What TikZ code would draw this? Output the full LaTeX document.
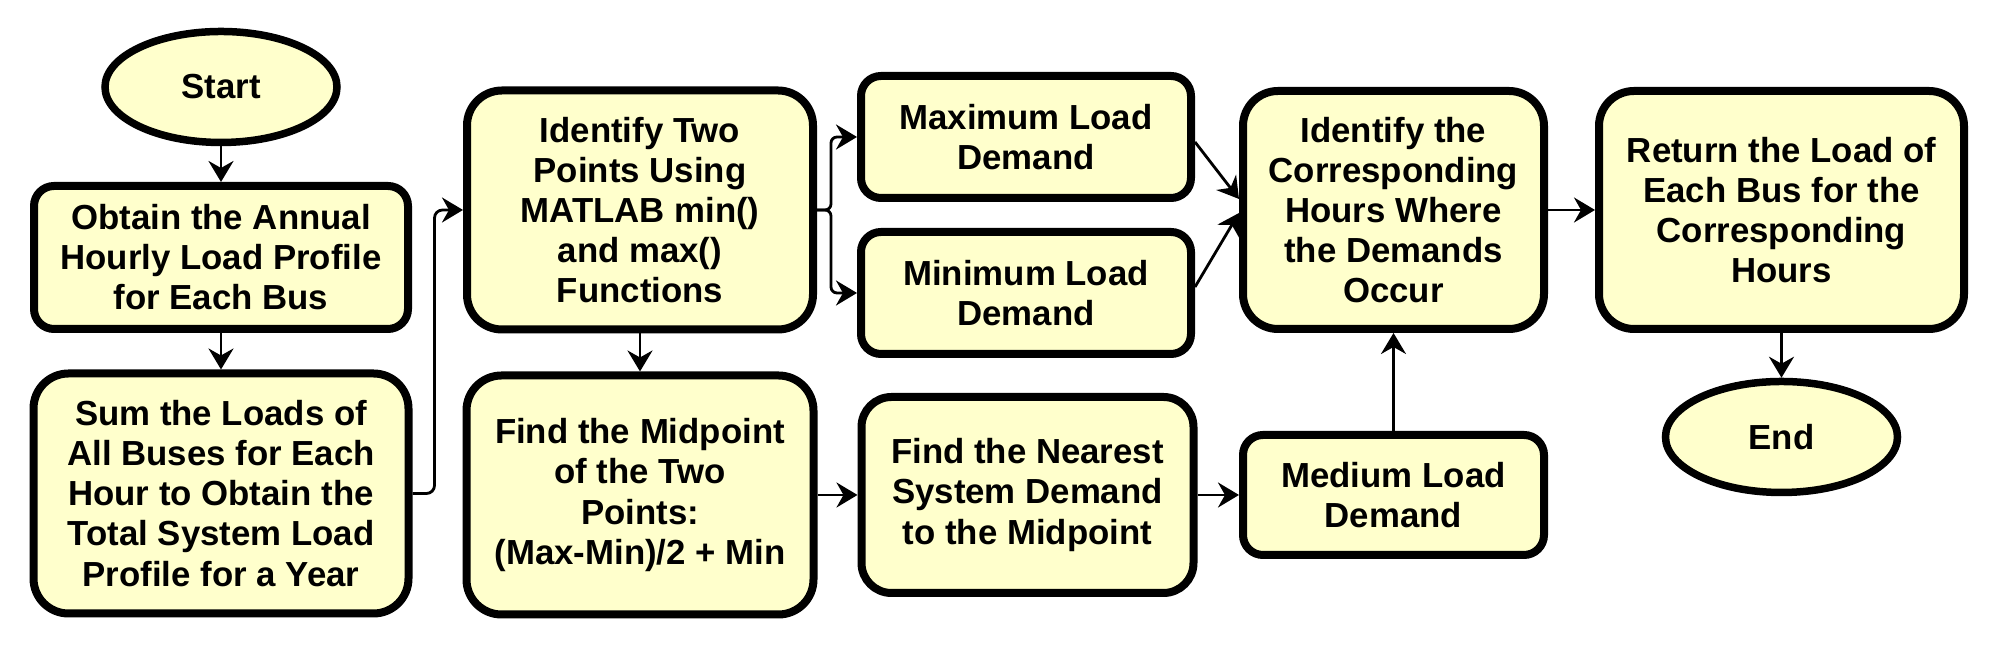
\documentclass[tikz,border=0pt]{standalone}
\usepackage{fontspec}
\setmainfont{Liberation Sans}
\usetikzlibrary{arrows.meta,shapes.geometric}
\definecolor{boxfill}{HTML}{FFFFCC}
\tikzset{
    process/.style={draw,fill=boxfill,line width=0.08cm,rounded corners=0.2cm,align=center,inner sep=0pt,
        font=\fontsize{9.9}{11.4}\selectfont\bfseries},
    terminal/.style={draw,fill=boxfill,line width=0.075cm,ellipse,inner sep=0pt,minimum width=2.32cm,minimum height=1.11cm,
        font=\fontsize{9.9}{11.4}\selectfont\bfseries},
    arr/.style={line width=0.8pt,-{Stealth[length=0.21cm,width=0.25cm,inset=0.07cm]}}
}
\begin{document}
\begin{tikzpicture}
        \useasboundingbox (0,0) rectangle (19.99,-6.48);
        \node[process,minimum width=3.74cm,minimum height=1.43cm] (obtain) at (2.21,-2.575) {Obtain the Annual\\Hourly Load Profile\\for Each Bus};
        \node[terminal,above of=obtain,node distance=1.705cm] (start) {Start};
        \node[process,minimum width=3.75cm,minimum height=2.40cm,rounded corners=0.35cm,below of=obtain,node distance=2.36cm] (total) {Sum the Loads of\\All Buses for Each\\Hour to Obtain the\\Total System Load\\Profile for a Year};

        \node[process,minimum width=3.46cm,minimum height=2.39cm,rounded corners=0.35cm] (identify) at (6.40,-2.10) {Identify Two\\Points Using\\MATLAB min()\\and max()\\Functions};
        \node[process,minimum width=3.47cm,minimum height=2.39cm,rounded corners=0.35cm,below of=identify,node distance=2.85cm] (midpoint) {Find the Midpoint\\of the Two\\Points:\\(Max-Min)/2 + Min};

        \node[process,minimum width=3.30cm,minimum height=1.22cm] (maximum) at (10.26,-1.37) {Maximum Load\\Demand};
        \node[process,minimum width=3.30cm,minimum height=1.22cm,below of=maximum,node distance=1.56cm] (minimum) {Minimum Load\\Demand};
        \node[process,minimum width=3.32cm,minimum height=1.96cm,rounded corners=0.3cm,right of=midpoint,node distance=3.875cm] (nearest) {Find the Nearest\\System Demand\\to the Midpoint};

        \node[process,minimum width=3.01cm,minimum height=2.38cm,rounded corners=0.35cm] (hours) at (13.935,-2.10) {Identify the\\Corresponding\\Hours Where\\the Demands\\Occur};
        \node[process,minimum width=3.01cm,minimum height=1.20cm,below of=hours,node distance=2.85cm] (medium) {Medium Load\\Demand};

        \node[process,minimum width=3.65cm,minimum height=2.38cm,rounded corners=0.35cm,right of=hours,node distance=3.88cm] (loads) {Return the Load of\\Each Bus for the\\Corresponding\\Hours};
        \node[terminal,below of=loads,node distance=2.27cm] (finish) {End};

        \draw[arr] (start) -- (obtain);
        \draw[arr] (obtain) -- (total);
        \draw[arr,rounded corners=0.08cm] (total.east) -- ++(0.22,0) |- (identify.west);
        \draw[arr,rounded corners=0.06cm] (identify.east) -- ++(0.14,0) |- (maximum.west);
        \draw[arr,rounded corners=0.06cm] (identify.east) -- ++(0.14,0) |- (minimum.west);
        \draw[arr] (identify) -- (midpoint);
        \draw[arr] (midpoint) -- (nearest);
        \draw[arr] (nearest) -- (medium);
        \draw[arr] ([yshift=-0.05cm]maximum.east) -- ([yshift=0.11cm]hours.west);
        \draw[arr] ([yshift=0.06cm]minimum.east) -- ([yshift=-0.03cm]hours.west);
        \draw[arr] (medium) -- (hours);
        \draw[arr] (hours) -- (loads);
        \draw[arr] (loads) -- (finish);
    \end{tikzpicture}
\end{document}
